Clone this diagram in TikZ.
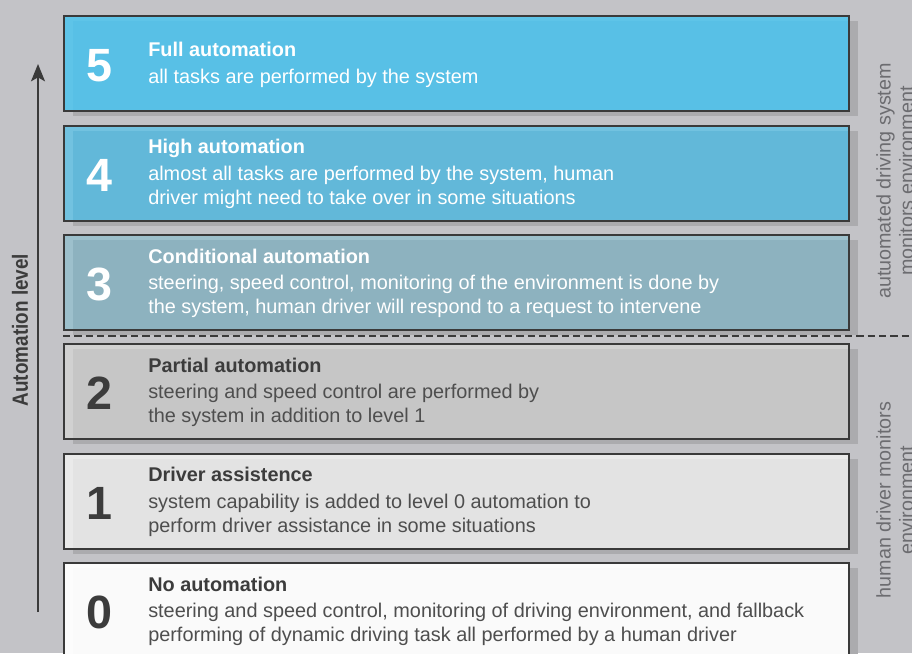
\documentclass[tikz,border=0pt]{standalone}
\usepackage{fontspec}
\setmainfont{Liberation Sans}
\newfontfamily\condfont[FakeStretch=0.86]{Liberation Sans}
\usetikzlibrary{shadows,arrows.meta}
\definecolor{bg}{HTML}{C3C3C7}
\definecolor{shadowgray}{HTML}{ABABAE}
\definecolor{boxline}{HTML}{3A3A3A}
\definecolor{cfive}{HTML}{58C0E6}
\definecolor{bfive}{HTML}{5EC4E8}
\definecolor{cfour}{HTML}{62B8D9}
\definecolor{bfour}{HTML}{72C2E0}
\definecolor{cthree}{HTML}{8DB2BF}
\definecolor{bthree}{HTML}{9DC0CC}
\definecolor{ctwo}{HTML}{C6C6C6}
\definecolor{btwo}{HTML}{D1D1D1}
\definecolor{cone}{HTML}{E3E3E3}
\definecolor{bone}{HTML}{EAEAEA}
\definecolor{czero}{HTML}{FAFAFA}
\definecolor{bzero}{HTML}{FCFCFC}
\definecolor{darktxt}{HTML}{3C3C3C}
\definecolor{bodytxt}{HTML}{4E4E4E}
\definecolor{sidetxt}{HTML}{6C6C70}
\tikzset{
  lvl/.style 2 args={draw=boxline, line width=1.5pt, fill=#1,
    minimum width=588.75pt, minimum height=71.25pt, inner sep=0pt,
    drop shadow={shadow xshift=6.75pt, shadow yshift=-3.75pt, fill=shadowgray, opacity=1},
    path picture={
      \fill[#2] (path picture bounding box.north west) rectangle ([xshift=6.75pt]path picture bounding box.south west);
      \fill[#2] (path picture bounding box.north west) rectangle ([yshift=-3.75pt]path picture bounding box.north east);
    }},
  digit/.style={inner sep=0pt, font=\fontsize{35}{35}\selectfont\bfseries},
  txt/.style={anchor=west, inner sep=0pt, align=left, font=\fontsize{14.9}{18}\selectfont},
  side/.style={rotate=90, inner sep=0pt, align=center, text=sidetxt, font=\fontsize{14.8}{17}\selectfont},
  arrowline/.style={draw=boxline, line width=1.4pt, -{Stealth[length=13pt, width=10.5pt, inset=3pt]}},
  dashline/.style={draw=boxline, line width=1pt, dash pattern=on 5.5pt off 3pt}
}
\begin{document}
\begin{tikzpicture}[x=0.75pt, y=-0.75pt]
\fill[bg] (0,0) rectangle (912,653);
\useasboundingbox (0,0) rectangle (912,653);

% boxes
\node[lvl={cfive}{bfive}]   (b5) at (456.5,63.5)  {};
\node[lvl={cfour}{bfour}]   (b4) at (456.5,173)   {};
\node[lvl={cthree}{bthree}] (b3) at (456.5,282.5) {};
\node[lvl={ctwo}{btwo}]     (b2) at (456.5,391.5) {};
\node[lvl={cone}{bone}]     (b1) at (456.5,501)   {};
\node[lvl={czero}{bzero}]   (b0) at (456.5,610.5) {};

% digits
\node[digit, text=white]   (n5) at (99,65.5)  {5};
\node[digit, text=white]   (n4) at (99,175)   {4};
\node[digit, text=white]   (n3) at (99,284.5) {3};
\node[digit, text=darktxt] (n2) at (99,393.5) {2};
\node[digit, text=darktxt] (n1) at (99,503)   {1};
\node[digit, text=darktxt] (n0) at (99,612.5) {0};

% texts
\node[txt, text=white] (t5) at (148,65) {\textbf{Full automation}\\[2pt]all tasks are performed by the system};
\node[txt, text=white] (t4) at (148,174) {\textbf{High automation}\\[2pt]almost all tasks are performed by the system, human\\driver might need to take over in some situations};
\node[txt, text=white] (t3) at (148,283.5) {\textbf{Conditional automation}\\[2pt]steering, speed control, monitoring of the environment is done by\\the system, human driver will respond to a request to intervene};
\node[txt, text=bodytxt] (t2) at (148,392.5) {\textcolor{darktxt}{\textbf{Partial automation}}\\[2pt]steering and speed control are performed by\\the system in addition to level 1};
\node[txt, text=bodytxt] (t1) at (148,502) {\textcolor{darktxt}{\textbf{Driver assistence}}\\[2pt]system capability is added to level 0 automation to\\perform driver assistance in some situations};
\node[txt, text=bodytxt] (t0) at (148,611.5) {\textcolor{darktxt}{\textbf{No automation}}\\[2pt]steering and speed control, monitoring of driving environment, and fallback\\performing of dynamic driving task all performed by a human driver};

% dashed separator
\coordinate (dl) at (63,336);
\coordinate (dr) at (912,336);
\draw[dashline] (dl) -- (dr);

% axis arrow
\coordinate (abot) at (38,612);
\coordinate (atop) at (38,64);
\draw[arrowline] (abot) -- (atop);
\node[rotate=90, inner sep=0pt, text=darktxt, font=\condfont\bfseries\fontsize{16.5}{18}\selectfont] (axl) at (20,330) {Automation level};

% side labels
\node[side] (s1) at (895,181) {autuomated driving system\\monitors environment};
\node[side] (s2) at (895,500) {human driver monitors\\environment};
\end{tikzpicture}
\end{document}
